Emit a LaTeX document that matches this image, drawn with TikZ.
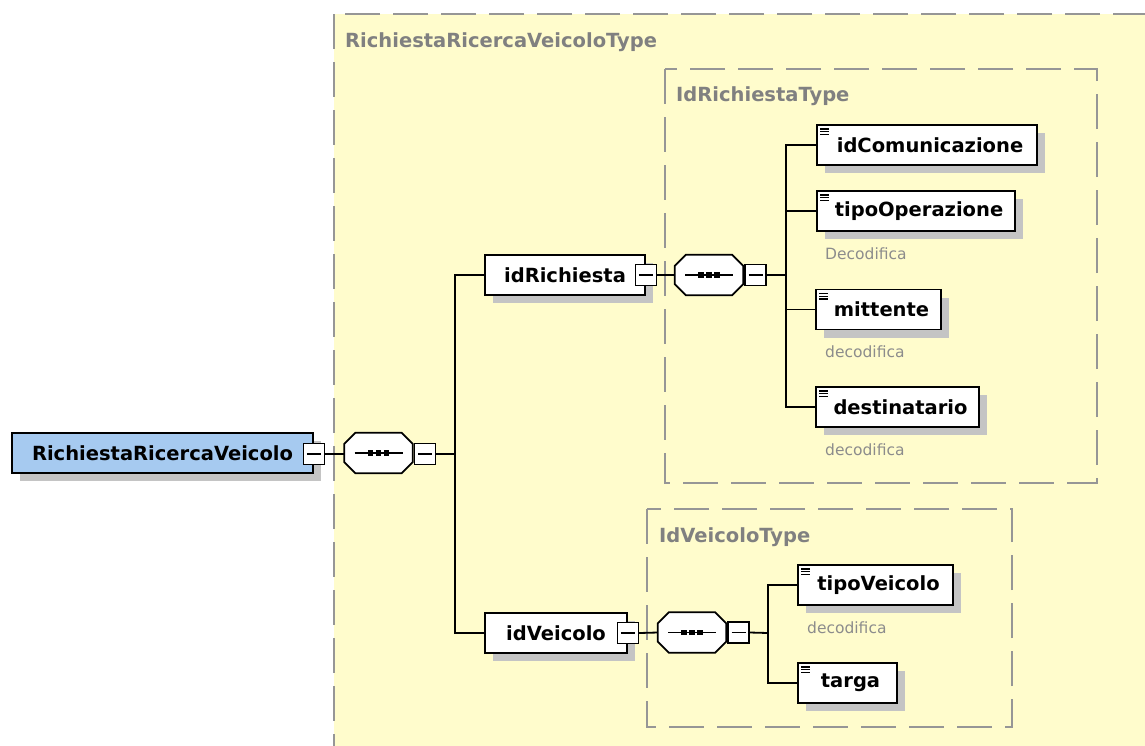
\documentclass[tikz,border=0pt]{standalone}
\usepackage{fontspec}
\setmainfont{DejaVu Sans}
\usetikzlibrary{shadows}
\definecolor{bgyellow}{RGB}{255,252,204}
\definecolor{boxblue}{RGB}{166,202,240}
\definecolor{dashgray}{RGB}{150,150,150}
\definecolor{titlegray}{RGB}{128,128,128}
\definecolor{shadowgray}{RGB}{196,196,196}
\definecolor{notegray}{RGB}{140,140,140}
\tikzset{
  frame/.style={draw=dashgray, line width=2pt, dash pattern=on 35pt off 13pt},
  frametitle/.style={anchor=west, text=titlegray, font=\fontsize{19.5}{22}\selectfont\bfseries, inner sep=0pt},
  elem/.style={draw=black, line width=1.8pt, fill=white, minimum height=40pt, inner sep=0pt,
    font=\fontsize{19.5}{22}\selectfont\bfseries,
    general shadow={fill=shadowgray, shadow xshift=8pt, shadow yshift=-8pt}},
  leaf/.style={elem, path picture={
      \foreach \dy in {4,6.8,9.6}
        \draw[line width=1.3pt] ([shift={(3pt,-\dy pt)}]path picture bounding box.north west) -- ++(9pt,0pt);}},
  seqbox/.style={rectangle, draw=none, minimum height=40pt, minimum width=68pt, inner sep=0pt},
  octline/.style={draw=black, line width=1.8pt, fill=white},
  minusbox/.style={draw=black, fill=white, line width=1.6pt, minimum width=21pt, minimum height=21pt, inner sep=0pt,
    path picture={\draw[line width=1.5pt] ([xshift=-7pt]path picture bounding box.center) -- ([xshift=7pt]path picture bounding box.center);}},
  conn/.style={line width=1.8pt},
  note/.style={anchor=west, text=notegray, font=\fontsize{15.5}{18}\selectfont, inner sep=0pt},
}
\newcommand{\octa}[1]{%
  \fill[shadowgray, shift={(8pt,-8pt)}]
    ([xshift=11pt]#1.north west) -- ([xshift=-11pt]#1.north east) -- ([yshift=-11pt]#1.north east)
    -- ([yshift=11pt]#1.south east) -- ([xshift=-11pt]#1.south east) -- ([xshift=11pt]#1.south west)
    -- ([yshift=11pt]#1.south west) -- ([yshift=-11pt]#1.north west) -- cycle;
  \draw[octline]
    ([xshift=11pt]#1.north west) -- ([xshift=-11pt]#1.north east) -- ([yshift=-11pt]#1.north east)
    -- ([yshift=11pt]#1.south east) -- ([xshift=-11pt]#1.south east) -- ([xshift=11pt]#1.south west)
    -- ([yshift=11pt]#1.south west) -- ([yshift=-11pt]#1.north west) -- cycle;
  \draw[line width=1.6pt] ([xshift=-24pt]#1.center) -- ([xshift=24pt]#1.center);
  \foreach \dx in {-8,0,8} \fill ([xshift=\dx pt]#1.center) +(-2.8,-2.8) rectangle +(2.8,2.8);
}
\begin{document}
\begin{tikzpicture}[x=1pt,y=-1pt]
\fill[white] (0,0) rectangle (1145,745);
\useasboundingbox (0,0) rectangle (1145,745);
\clip (0,0) rectangle (1145,745);
% frames
\draw[frame, fill=bgyellow] (334,14) rectangle (1175,780);
\node[frametitle] (t0) at (345,42) {RichiestaRicercaVeicoloType};
\draw[frame] (665,69) rectangle (1097,483);
\node[frametitle] (t1) at (676,96) {IdRichiestaType};
\draw[frame] (647,509) rectangle (1012,727);
\node[frametitle] (t2) at (659,537) {IdVeicoloType};
% nodes
\node[elem, fill=boxblue, minimum width=301pt] (rrv) at (162.5,453) {RichiestaRicercaVeicolo\hspace{12pt}};
\node[minusbox] (m0) at ([yshift=-1pt]rrv.east) {};
\node[seqbox] (o1) at (378.5,453) {};
\octa{o1}
\node[minusbox, anchor=west] (m1) at ([shift={(1pt,-1pt)}]o1.east) {};
\coordinate (j1) at (455,454);

\node[elem, minimum width=160pt] (ir) at (565,275) {idRichiesta\hspace{10pt}};
\node[minusbox] (m2) at (ir.east) {};
\node[seqbox] (o2) at (709,275) {};
\octa{o2}
\node[minusbox, anchor=west] (m3) at ([xshift=1pt]o2.east) {};
\coordinate (j2) at (786,275);

\node[leaf, minimum width=220pt] (idc) at (927,145) {\hspace{6pt}idComunicazione};
\node[leaf, minimum width=198pt] (tipo) at (916,211) {\hspace{6pt}tipoOperazione};
\node[note] (n1) at (825,254) {Decodifica};
\node[leaf, minimum width=125pt] (mitt) at (878.5,309.5) {\hspace{6pt}mittente};
\node[note] (n2) at (825,352) {decodifica};
\node[leaf, minimum width=163pt] (dest) at (897.5,407) {\hspace{6pt}destinatario};
\node[note] (n3) at (825,450) {decodifica};

\node[elem, minimum width=142pt] (iv) at (556,633) {idVeicolo\hspace{10pt}};
\node[minusbox] (m4) at (iv.east) {};
\node[seqbox] (o3) at (692,632.5) {};
\octa{o3}
\node[minusbox, anchor=west] (m5) at ([xshift=1pt]o3.east) {};
\coordinate (j3) at (768,633);

\node[leaf, minimum width=155pt] (tv) at (875.5,585) {\hspace{6pt}tipoVeicolo};
\node[note] (n4) at (807,628) {decodifica};
\node[leaf, minimum width=99pt] (tg) at (847.5,683) {\hspace{6pt}targa};

% connectors
\draw[conn] (m0.east) -- (m0.east -| o1.west);
\draw[conn] (m1.east) -- (j1);
\draw[conn] (ir.west) -| (j1) |- (iv.west);
\draw[conn] (m2.east) -- (o2.west);
\draw[conn] (m3.east) -- (j2);
\draw[conn] (idc.west) -| (j2) |- (dest.west);
\draw[conn] (tipo.west) -| (j2);
\draw[conn] (mitt.west) -| (j2);
\draw[conn] (m4.east) -- (o3.west);
\draw[conn] (m5.east) -- (j3);
\draw[conn] (tv.west) -| (j3) |- (tg.west);
\end{tikzpicture}
\end{document}
